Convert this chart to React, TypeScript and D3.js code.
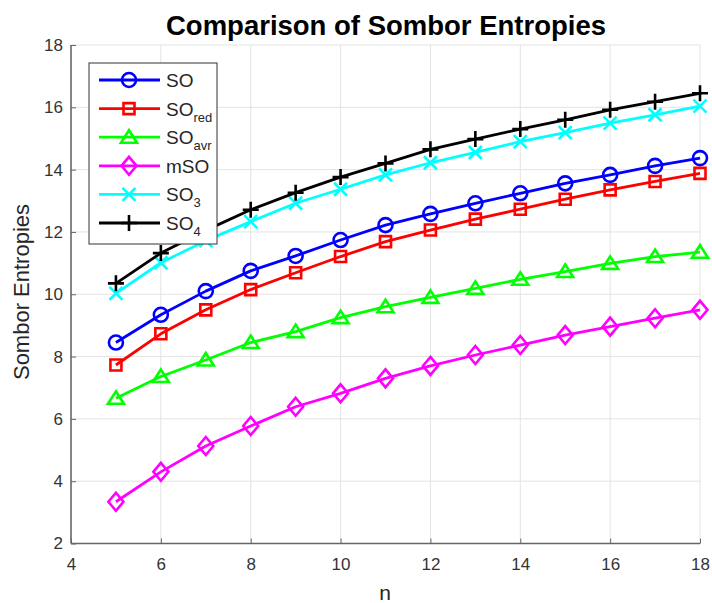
import React, { useEffect, useRef } from 'react';
import * as d3 from 'd3';

// n values and the six entropy series
const nValues = [5, 6, 7, 8, 9, 10, 11, 12, 13, 14, 15, 16, 17, 18];
const so = [8.45, 9.34, 10.1, 10.75, 11.23, 11.74, 12.22, 12.58, 12.92, 13.24, 13.56, 13.83, 14.12, 14.37];
const soRed = [7.73, 8.73, 9.5, 10.15, 10.69, 11.21, 11.69, 12.06, 12.41, 12.73, 13.05, 13.35, 13.62, 13.88];
const soAvr = [6.66, 7.36, 7.89, 8.45, 8.8, 9.25, 9.6, 9.9, 10.19, 10.48, 10.73, 10.99, 11.21, 11.35];
const mSo = [3.34, 4.3, 5.13, 5.77, 6.39, 6.82, 7.3, 7.7, 8.05, 8.37, 8.69, 8.96, 9.23, 9.5];
const so3 = [10.03, 11.01, 11.72, 12.33, 12.92, 13.37, 13.83, 14.22, 14.55, 14.9, 15.19, 15.49, 15.76, 16.04];
const so4 = [10.35, 11.32, 12.05, 12.71, 13.26, 13.76, 14.2, 14.65, 14.98, 15.3, 15.6, 15.92, 16.18, 16.45];

const xTicks = [4, 6, 8, 10, 12, 14, 16, 18];
const yTicks = [2, 4, 6, 8, 10, 12, 14, 16, 18];

const series = [
  { name: 'SO', sub: '', values: so, color: '#0000ff', marker: 'circle' },
  { name: 'SO', sub: 'red', values: soRed, color: '#ff0000', marker: 'square' },
  { name: 'SO', sub: 'avr', values: soAvr, color: '#00ff00', marker: 'triangle' },
  { name: 'mSO', sub: '', values: mSo, color: '#ff00ff', marker: 'diamond' },
  { name: 'SO', sub: '3', values: so3, color: '#00ffff', marker: 'x' },
  { name: 'SO', sub: '4', values: so4, color: '#000000', marker: 'plus' },
];

// marker outline centred on 0,0
const markerPath = (type: string) => {
  switch (type) {
    case 'circle':
      return 'M7,0A7,7 0 1,1 -7,0A7,7 0 1,1 7,0Z';
    case 'square':
      return 'M-5.5,-5.5H5.5V5.5H-5.5Z';
    case 'triangle':
      return 'M0,-7L8,5.5H-8Z';
    case 'diamond':
      return 'M0,-9L7.5,0L0,9L-7.5,0Z';
    case 'x':
      return 'M-6.5,-6.5L6.5,6.5M-6.5,6.5L6.5,-6.5';
    default:
      return 'M-8,0H8M0,-8V8';
  }
};

const App = () => {
  const svgRef = useRef<SVGSVGElement>(null);

  useEffect(() => {
    const svg = d3.select(svgRef.current);
    svg.selectAll('*').remove();

    const left = 71;
    const right = 700;
    const top = 45;
    const bottom = 543.5;
    const font = 'Liberation Sans, Arial, Helvetica, sans-serif';

    const x = d3.scaleLinear().domain([4, 18]).range([left, right]);
    const y = d3.scaleLinear().domain([2, 18]).range([bottom, top]);

    svg.append('rect').attr('width', 712).attr('height', 603).attr('fill', '#fff');

    // grid
    const grid = svg.append('g').attr('stroke', '#e3e3e3').attr('stroke-width', 1);
    xTicks.slice(1).forEach(t => {
      grid.append('line').attr('x1', x(t)).attr('x2', x(t)).attr('y1', top).attr('y2', bottom);
    });
    yTicks.slice(1).forEach(t => {
      grid.append('line').attr('x1', left).attr('x2', right).attr('y1', y(t)).attr('y2', y(t));
    });

    // axes
    const xAxis = d3.axisBottom(x).tickValues(xTicks).tickSize(-5).tickPadding(14);
    const yAxis = d3.axisLeft(y).tickValues(yTicks).tickSize(-5).tickPadding(8);

    const gx = svg.append('g').attr('transform', `translate(0,${bottom})`).call(xAxis);
    const gy = svg.append('g').attr('transform', `translate(${left},0)`).call(yAxis);
    [gx, gy].forEach(g => {
      g.select('.domain').attr('stroke', '#666').attr('stroke-width', 1.6);
      g.selectAll('.tick line').attr('stroke', '#666').attr('stroke-width', 1);
      g.selectAll('.tick text')
        .attr('fill', '#333')
        .attr('font-family', font)
        .attr('font-size', 17);
    });
    gx.select('.domain').attr('d', `M${left},0H${right}`);
    gy.select('.domain').attr('d', `M0,${bottom}V${top}`);

    // lines + markers
    const line = d3.line<number>()
      .x((_, i) => x(nValues[i]))
      .y(d => y(d));

    series.forEach(s => {
      svg.append('path')
        .attr('d', line(s.values))
        .attr('fill', 'none')
        .attr('stroke', s.color)
        .attr('stroke-width', 2.8)
        .attr('stroke-linejoin', 'round');
      svg.append('g')
        .selectAll('path')
        .data(s.values)
        .enter().append('path')
        .attr('d', markerPath(s.marker))
        .attr('transform', (d, i) => `translate(${x(nValues[i])},${y(d)})`)
        .attr('fill', 'none')
        .attr('stroke', s.color)
        .attr('stroke-width', 2.6);
    });

    // legend
    const legend = svg.append('g').attr('transform', 'translate(89,63)');
    legend.append('rect')
      .attr('width', 128)
      .attr('height', 181)
      .attr('fill', '#fff')
      .attr('stroke', '#333')
      .attr('stroke-width', 1);

    series.forEach((s, i) => {
      const row = legend.append('g').attr('transform', `translate(0,${17 + i * 28.6})`);
      row.append('line')
        .attr('x1', 10).attr('x2', 71)
        .attr('stroke', s.color)
        .attr('stroke-width', 2.8);
      row.append('path')
        .attr('d', markerPath(s.marker))
        .attr('transform', 'translate(40,0)')
        .attr('fill', 'none')
        .attr('stroke', s.color)
        .attr('stroke-width', 2.6);
      const txt = row.append('text')
        .attr('x', 77)
        .attr('y', 7)
        .attr('font-family', font)
        .attr('font-size', 19)
        .attr('fill', '#262626')
        .text(s.name);
      if (s.sub) {
        txt.append('tspan')
          .attr('font-size', 13)
          .attr('dy', 6)
          .text(s.sub);
      }
    });

    // titles
    svg.append('text')
      .attr('x', 386)
      .attr('y', 35)
      .attr('text-anchor', 'middle')
      .attr('font-family', font)
      .attr('font-weight', 'bold')
      .attr('font-size', 27.5)
      .attr('fill', '#000')
      .text('Comparison of Sombor Entropies');

    svg.append('text')
      .attr('x', 385)
      .attr('y', 600)
      .attr('text-anchor', 'middle')
      .attr('font-family', font)
      .attr('font-size', 21)
      .attr('fill', '#262626')
      .text('n');

    svg.append('text')
      .attr('transform', 'translate(29,292) rotate(-90)')
      .attr('text-anchor', 'middle')
      .attr('font-family', font)
      .attr('font-size', 22)
      .attr('fill', '#262626')
      .text('Sombor Entropies');
  }, []);

  return (
    <svg
      ref={svgRef}
      width={712}
      height={603}
      style={{ position: 'absolute', left: 0, top: 0 }}
    />
  );
};

export default App;
